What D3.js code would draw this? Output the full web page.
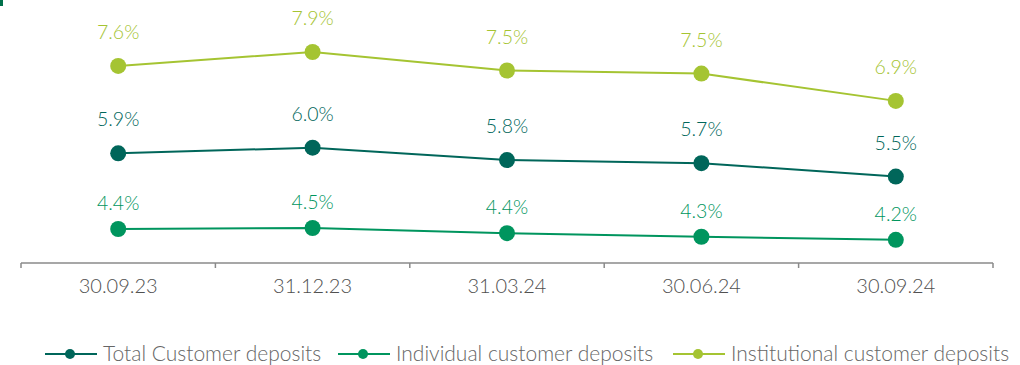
<!DOCTYPE html>
<html>
<head>
<meta charset="utf-8">
<script src="https://cdn.jsdelivr.net/npm/d3@7/dist/d3.min.js"></script>
<style>
  html, body { margin: 0; padding: 0; background: #fff; }
  svg { display: block; }
  text { font-family: Lato, "Noto Sans", sans-serif; font-weight: 300; }
</style>
</head>
<body>
<svg id="chart" width="1020" height="365"></svg>
<script>
// Quarter-end dates
const categories = ["30.09.23", "31.12.23", "31.03.24", "30.06.24", "30.09.24"];

// Deposit rates, % (shown rounded to one decimal)
const institutionalValues = [7.61, 7.88, 7.52, 7.46, 6.93];
const totalValues         = [5.91, 6.02, 5.78, 5.72, 5.46];
const individualValues    = [4.44, 4.46, 4.36, 4.29, 4.23];

const seriesNames = ["Total Customer deposits", "Individual customer deposits", "Institutional customer deposits"];
const seriesColors = ["#00665a", "#00955e", "#a5c432"];

const series = [
  { name: seriesNames[2], values: institutionalValues, color: seriesColors[2], labelGap: 27 },
  { name: seriesNames[0], values: totalValues,         color: seriesColors[0], labelGap: 27 },
  { name: seriesNames[1], values: individualValues,    color: seriesColors[1], labelGap: 19 }
];

const svg = d3.select("#chart");

// small corner marker
svg.append("rect").attr("x", 0).attr("y", 0).attr("width", 3).attr("height", 6).attr("fill", "#00704a");

const axisY = 263;
const x = d3.scaleBand().domain(categories).range([21, 993]).padding(0);
const y = d3.scaleLinear().domain([3.78, 8.89]).range([axisY, 0]);
const cx = c => x(c) + x.bandwidth() / 2;
const fmt = d3.format(".1f");

// x axis: baseline with boundary ticks between categories
const axisG = svg.append("g").attr("transform", `translate(0,${axisY})`);
axisG.append("line")
  .attr("x1", x.range()[0]).attr("x2", x.range()[1])
  .attr("y1", 0).attr("y2", 0)
  .attr("stroke", "#8a8a8a").attr("stroke-width", 1.5);
const bounds = categories.map(c => x(c)).concat([x.range()[1]]);
axisG.selectAll("line.tick").data(bounds).join("line")
  .attr("class", "tick")
  .attr("x1", d => d).attr("x2", d => d)
  .attr("y1", 0).attr("y2", 5)
  .attr("stroke", "#8a8a8a").attr("stroke-width", 1.5);
axisG.selectAll("text.lab").data(categories).join("text")
  .attr("class", "lab")
  .attr("x", d => cx(d)).attr("y", 30)
  .attr("text-anchor", "middle")
  .attr("font-size", 20).attr("fill", "#505050")
  .text(d => d);

// lines, points and value labels
const line = d3.line().x((d, i) => cx(categories[i])).y(d => y(d));
series.forEach(s => {
  const g = svg.append("g");
  g.append("path").datum(s.values)
    .attr("d", line).attr("fill", "none")
    .attr("stroke", s.color).attr("stroke-width", 2);
  g.selectAll("circle").data(s.values).join("circle")
    .attr("cx", (d, i) => cx(categories[i])).attr("cy", d => y(d))
    .attr("r", 8).attr("fill", s.color);
  g.selectAll("text").data(s.values).join("text")
    .attr("x", (d, i) => cx(categories[i])).attr("y", d => y(d) - s.labelGap)
    .attr("text-anchor", "middle")
    .attr("font-size", 19.5).attr("fill", s.color)
    .text(d => fmt(d) + "%");
});

// legend
const legendY = 354;
const legendItems = [
  { name: seriesNames[0], color: seriesColors[0], x0: 45 },
  { name: seriesNames[1], color: seriesColors[1], x0: 338 },
  { name: seriesNames[2], color: seriesColors[2], x0: 673 }
];
legendItems.forEach(it => {
  const g = svg.append("g").attr("transform", `translate(${it.x0},${legendY})`);
  g.append("line").attr("x1", 0).attr("x2", 52).attr("y1", 0).attr("y2", 0)
    .attr("stroke", it.color).attr("stroke-width", 2);
  g.append("circle").attr("cx", 25).attr("cy", 0).attr("r", 5).attr("fill", it.color);
  g.append("text").attr("x", 58).attr("y", 6.5)
    .attr("font-size", 21).attr("fill", "#666")
    .text(it.name);
});
</script>
</body>
</html>
